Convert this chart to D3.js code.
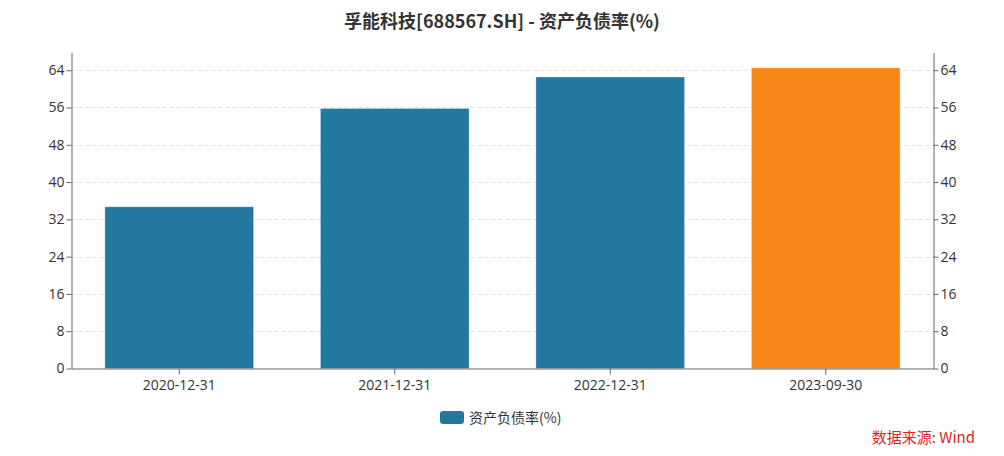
<!DOCTYPE html>
<html>
<head>
<meta charset="utf-8">
<script src="https://cdn.jsdelivr.net/npm/d3@7/dist/d3.min.js"></script>
<style>
    body { margin: 0; background: #fff; }
    svg { display: block; font-family: "Noto Sans CJK SC", "Open Sans", sans-serif; }
</style>
</head>
<body>
<svg id="chart" width="1004" height="456"></svg>
<script>
'use strict';

var categories = ["2020-12-31", "2021-12-31", "2022-12-31", "2023-09-30"];
var values = [34.7, 55.8, 62.55, 64.5];
var barColors = ["#22789f", "#22789f", "#22789f", "#f58818"];
var yTicks = [0, 8, 16, 24, 32, 40, 48, 56, 64];
var seriesName = "资产负债率(%)";
var title = "孚能科技[688567.SH] - 资产负债率(%)";

var svg = d3.select("#chart");
var plotLeft = 71.5, plotRight = 933.5, plotTop = 52.5, plotBottom = 368.5;

var x = d3.scaleBand().domain(categories).range([plotLeft, plotRight]).padding(0);
var y = d3.scaleLinear().domain([0, 67.8]).range([plotBottom, plotTop]);
var barWidth = x.bandwidth() * 0.69;

// title
svg.append("text")
    .attr("x", 502)
    .attr("y", 28)
    .attr("text-anchor", "middle")
    .style("font-size", "18px")
    .style("font-weight", "bold")
    .style("fill", "#333")
    .text(title);

// grid lines
svg.append("g").selectAll("line.grid")
    .data(yTicks.slice(1))
    .enter().append("line")
    .attr("class", "grid")
    .attr("x1", plotLeft).attr("x2", plotRight)
    .attr("y1", function (d) { return Math.round(y(d)) + 0.5; })
    .attr("y2", function (d) { return Math.round(y(d)) + 0.5; })
    .style("stroke", "#e3e3e3")
    .style("stroke-dasharray", "4,3");

// bars
svg.append("g").selectAll("rect.bar")
    .data(values)
    .enter().append("rect")
    .attr("class", "bar")
    .attr("x", function (d, i) { return x(categories[i]) + (x.bandwidth() - barWidth) / 2; })
    .attr("width", barWidth)
    .attr("y", function (d) { return y(d); })
    .attr("height", function (d) { return y(0) - y(d); })
    .style("fill", function (d, i) { return barColors[i]; })
    .style("stroke", "#ffffff")
    .style("stroke-opacity", 0.4)
    .style("stroke-width", 0.8);

function styleAxis(g) {
    g.selectAll("path, line").style("stroke", "#666");
    g.selectAll("text")
        .style("font-size", "14px")
        .style("fill", "#333")
        .style("font-family", "'Open Sans', 'Noto Sans', sans-serif");
}

var yLeft = svg.append("g")
    .attr("transform", "translate(" + plotLeft + ",0)")
    .call(d3.axisLeft(y).tickValues(yTicks).tickSize(5).tickSizeOuter(0).tickPadding(2));
styleAxis(yLeft);

var yRight = svg.append("g")
    .attr("transform", "translate(" + plotRight + ",0)")
    .call(d3.axisRight(y).tickValues(yTicks).tickSize(5).tickSizeOuter(0).tickPadding(2));
styleAxis(yRight);

var xAxis = svg.append("g")
    .attr("transform", "translate(0," + plotBottom + ")")
    .call(d3.axisBottom(x).tickSize(6).tickSizeOuter(0).tickPadding(6));
styleAxis(xAxis);

// legend
var legend = svg.append("g").attr("transform", "translate(440,411)");
legend.append("rect")
    .attr("width", 24).attr("height", 13)
    .attr("rx", 3).attr("ry", 3)
    .style("fill", "#22789f");
legend.append("text")
    .attr("x", 29).attr("y", 12)
    .style("font-size", "14px")
    .style("fill", "#333")
    .text(seriesName);

// source
svg.append("text")
    .attr("x", 975)
    .attr("y", 443)
    .attr("text-anchor", "end")
    .style("font-size", "15px")
    .style("fill", "#e0261c")
    .text("数据来源: Wind");
</script>
</body>
</html>
